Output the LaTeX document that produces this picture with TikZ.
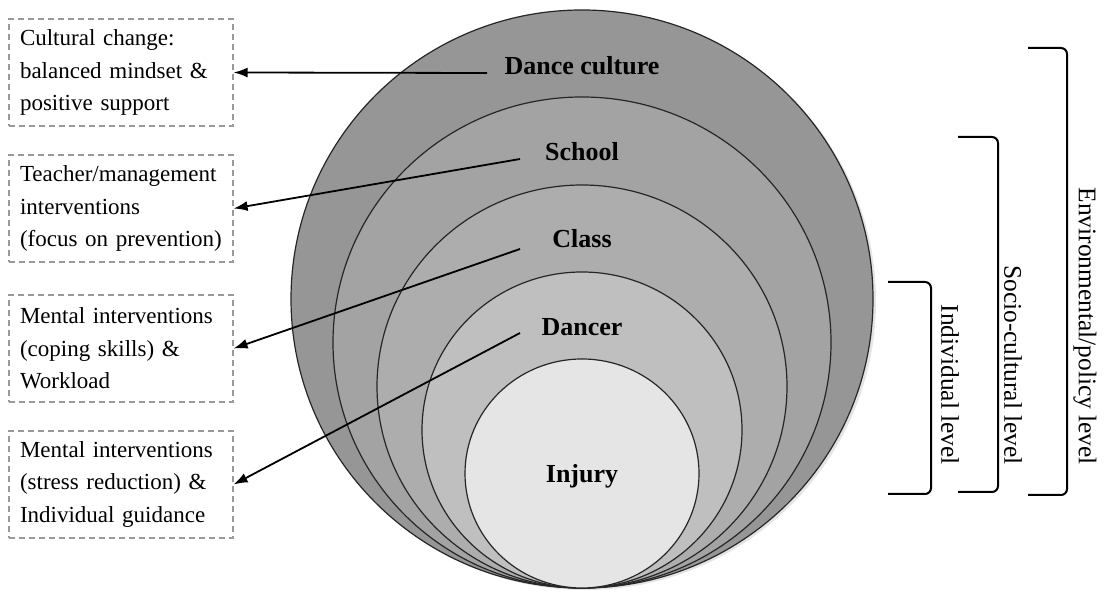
\documentclass[tikz,border=0pt]{standalone}
\usepackage{fontspec}
\setmainfont{Liberation Serif}
\usetikzlibrary{arrows.meta}

\begin{document}
\begin{tikzpicture}[x=0.5pt,y=-0.5pt,
  ring/.style={draw=black!85,line width=0.6pt},
  lbl/.style={font=\fontsize{13}{15}\selectfont\bfseries},
  box/.style={draw=black!40,densely dashed,line width=0.6pt,text width=101pt,
    minimum height=53.5pt,inner xsep=5.5pt,align=left,
    font=\fontsize{11.5}{16.25}\selectfont},
  arr/.style={-{Latex[length=7pt,width=5pt]},line width=0.9pt},
  brk/.style={line width=1pt,rounded corners=3pt},
  lvl/.style={rotate=-90,anchor=east,font=\fontsize{12.7}{14}\selectfont}]
\useasboundingbox (0,0) rectangle (1106,597);

% nested rings, all touching at the bottom
\fill[black!30,opacity=.35] (585,301) ellipse (291 and 289);
\filldraw[ring,fill=black!41] (582,299) ellipse (291 and 289);
\filldraw[ring,fill=black!36] (582,342.5) ellipse (249 and 245.5);
\filldraw[ring,fill=black!32] (582,386.5) ellipse (205 and 201.5);
\filldraw[ring,fill=black!25] (582,430) ellipse (160 and 158);
\filldraw[ring,fill=black!10] (582,473.5) ellipse (117 and 114.5);

\node [lbl] (dc) at (582,66) {Dance culture};
\node [lbl] (sc) at (582,152) {School};
\node [lbl] (cl) at (582,239) {Class};
\node [lbl] (da) at (582,327) {Dancer};
\node [lbl] (in) at (582,476) {Injury};

% interventions
\node [box] (b1) at (121,72.5) {Cultural change:\\balanced mindset \&\\positive support};
\node [box] (b2) at (121,208.5) {Teacher/management\\interventions\\(focus on prevention)};
\node [box] (b3) at (121,348.5) {Mental interventions\\(coping skills) \&\\Workload};
\node [box] (b4) at (121,484.5) {Mental interventions\\(stress reduction) \&\\Individual guidance};

\coordinate (s1) at (487,73);
\coordinate (s2) at (520,159);
\coordinate (s3) at (520,249);
\coordinate (s4) at (520,333);
\draw [arr] (s1) -- (b1.east);
\draw [arr] (s2) -- (b2.east);
\draw [arr] (s3) -- (b3.east);
\draw [arr] (s4) -- (b4.east);

% levels
\draw [brk] (1028,48) -- (1067,48) -- (1067,495) -- (1028,495);
\draw [brk] (958,137) -- (998,137) -- (998,492) -- (958,492);
\draw [brk] (888,282) -- (931,282) -- (931,494) -- (888,494);
\node [lvl] (env) at (1085,472) {Environmental/policy level};
\node [lvl] (soc) at (1013,472) {Socio-cultural level};
\node [lvl] (ind) at (950,472) {Individual level};
\end{tikzpicture}
\end{document}
